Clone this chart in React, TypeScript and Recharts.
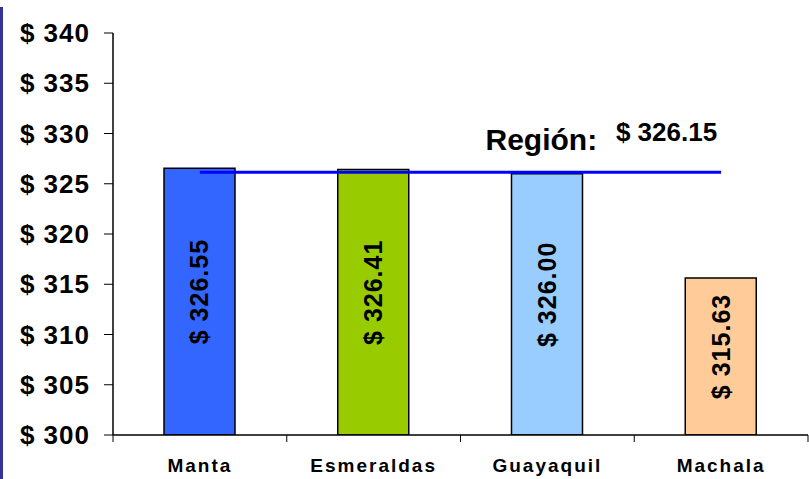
import { Bar, BarChart, Cell, LabelList, ReferenceLine, XAxis, YAxis } from "recharts";

const cities = ["Manta", "Esmeraldas", "Guayaquil", "Machala"];
const prices = [326.55, 326.41, 326.0, 315.63];
const barColors = ["#3366FF", "#99CC00", "#99CCFF", "#FFCC99"];
const yTicks = [300, 305, 310, 315, 320, 325, 330, 335, 340];
const regionAvg = 326.15;

const data = cities.map((name, i) => ({ name, value: prices[i] }));

const FONT = '"Liberation Sans", Arial, sans-serif';

function CityTick(props: any) {
  const { x, y, payload, index } = props;
  const half = payload?.offset ?? 0;
  const axisY = y - 7;
  return (
    <g>
      {index === 0 && (
        <line x1={x - half} x2={x - half} y1={axisY} y2={axisY + 7} stroke="#000" />
      )}
      <line x1={x + half} x2={x + half} y1={axisY} y2={axisY + 7} stroke="#000" />
      <text
        x={x}
        y={axisY + 37}
        textAnchor="middle"
        fontFamily={FONT}
        fontWeight="bold"
        fontSize={19}
        letterSpacing={2}
        fill="#000"
      >
        {payload.value}
      </text>
    </g>
  );
}

function PriceLabel(props: any) {
  const { x, y, width, height, value } = props;
  const cx = x + width / 2;
  const cy = y + height / 2 - 10;
  return (
    <text
      x={cx}
      y={cy}
      transform={`rotate(-90, ${cx}, ${cy})`}
      textAnchor="middle"
      dominantBaseline="central"
      fontFamily={FONT}
      fontWeight="bold"
      fontSize={25}
      letterSpacing={1}
      fill="#000"
    >
      {`$ ${Number(value).toFixed(2)}`}
    </text>
  );
}

function RegionLabel(props: any) {
  const vb = props.viewBox || {};
  const right = vb.x + vb.width;
  const y = vb.y;
  return (
    <g fontFamily={FONT} fontWeight="bold" fill="#000">
      <text x={right - 124} y={y - 22} textAnchor="end" fontSize={30}>
        Región:
      </text>
      <text x={right - 4} y={y - 31} textAnchor="end" fontSize={26}>
        {`$ ${regionAvg.toFixed(2)}`}
      </text>
    </g>
  );
}

export default function App() {
  return (
    <div style={{ position: "absolute", left: 0, top: 0, width: 809, height: 479, background: "#fff" }}>
      <div style={{ position: "absolute", left: 0, top: 7, width: 3, bottom: 0, background: "#333399" }} />
      <BarChart
        width={809}
        height={479}
        data={data}
        margin={{ top: 33, right: 1, bottom: 7, left: 0 }}
      >
        <YAxis
          type="number"
          domain={[300, 340]}
          ticks={yTicks}
          allowDataOverflow
          width={113}
          tickSize={9}
          tickMargin={14}
          axisLine={{ stroke: "#000", strokeWidth: 1.5 }}
          tickLine={{ stroke: "#000" }}
          tickFormatter={(v: number) => `$ ${v}`}
          tick={{ fill: "#000", fontSize: 26, fontWeight: "bold", fontFamily: FONT, letterSpacing: 1 }}
        />
        <XAxis
          dataKey="name"
          height={37}
          tickSize={7}
          tickMargin={0}
          interval={0}
          axisLine={{ stroke: "#000", strokeWidth: 1.5 }}
          tickLine={false}
          tick={<CityTick />}
        />
        <Bar dataKey="value" barSize={71} stroke="#000" strokeWidth={1.5} isAnimationActive={false}>
          {data.map((d, i) => (
            <Cell key={d.name} fill={barColors[i]} />
          ))}
          <LabelList dataKey="value" content={<PriceLabel />} />
        </Bar>
        <ReferenceLine
          segment={[
            { x: cities[0], y: regionAvg },
            { x: cities[cities.length - 1], y: regionAvg },
          ]}
          stroke="#0000FF"
          strokeWidth={3}
          label={<RegionLabel />}
        />
      </BarChart>
    </div>
  );
}
